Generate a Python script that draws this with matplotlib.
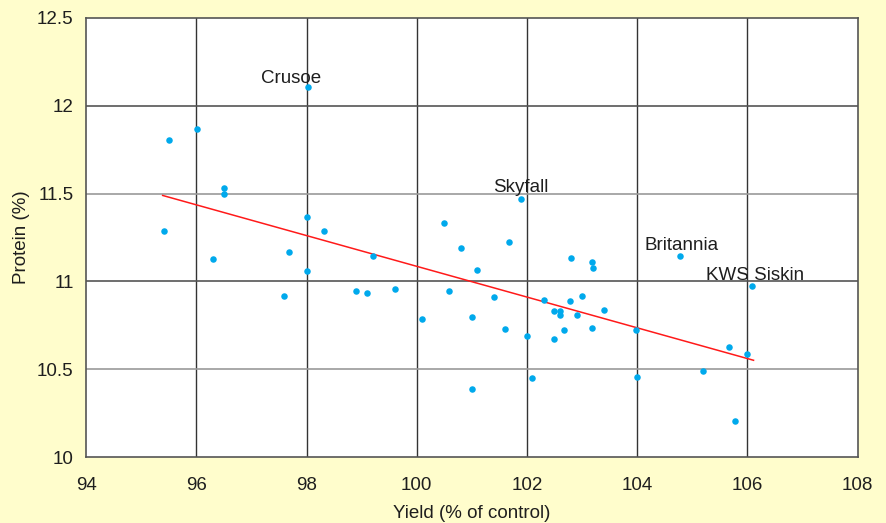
import matplotlib.pyplot as plt

# Yield (% of control) vs protein (%) for each variety
yield_pct = [98.03, 96.01, 95.5, 96.5, 96.5, 95.41, 98.0, 98.31,
             96.30, 97.69, 98.0, 97.60, 98.90, 99.10, 99.2,
             101.90, 100.50, 100.80, 101.68, 101.09, 102.79, 103.18, 103.19,
             99.60, 100.59, 101.40, 102.30, 102.78, 102.99, 102.49, 102.60,
             102.60, 102.90, 103.39, 100.09, 101.0, 101.60, 102.0, 102.68,
             102.49, 103.18, 103.98, 102.09, 101.0, 103.99,
             104.78, 106.09, 105.67, 105.99, 105.20, 105.78]
protein_pct = [12.106, 11.867, 11.807, 11.53, 11.50, 11.286, 11.367, 11.286,
               11.13, 11.168, 11.057, 10.915, 10.943, 10.933, 11.144,
               11.466, 11.333, 11.189, 11.225, 11.064, 11.134, 11.108, 11.074,
               10.956, 10.947, 10.913, 10.896, 10.886, 10.916, 10.83, 10.83,
               10.81, 10.807, 10.835, 10.786, 10.795, 10.729, 10.688, 10.725,
               10.672, 10.735, 10.722, 10.452, 10.388, 10.455,
               11.142, 10.972, 10.628, 10.587, 10.489, 10.208]

# trend line end points
trend_x = [95.39, 106.11]
trend_y = [11.489, 10.551]

# labelled varieties
label_names = ["Crusoe", "Skyfall", "Britannia", "KWS Siskin"]
label_x = [97.18, 101.38, 104.13, 105.25]
label_y = [12.152, 11.533, 11.203, 11.035]

x_ticks = [94, 96, 98, 100, 102, 104, 106, 108]
y_ticks = [10, 10.5, 11, 11.5, 12, 12.5]
y_tick_labels = ["10", "10.5", "11", "11.5", "12", "12.5"]

plt.rcParams['font.family'] = ['Liberation Sans', 'DejaVu Sans']
text_col = "#1e1e1e"

fig = plt.figure(figsize=(8.87, 5.23), dpi=100, facecolor="#FFFDCC")
ax = fig.add_axes([0.097, 0.126, 0.870, 0.840])
ax.set_facecolor("white")

# grid: vertical all dark, horizontal alternates dark / light
for xv in x_ticks[1:-1]:
    ax.axvline(xv, color="#333333", lw=1.0, zorder=1)
for yv in y_ticks[1:-1]:
    col = "#555555" if yv == int(yv) else "#9a9a9a"
    ax.axhline(yv, color=col, lw=1.2, zorder=1)

ax.plot(trend_x, trend_y, color="#FF1A1A", lw=1.1, zorder=2)
ax.scatter(yield_pct, protein_pct, s=22, color="#00A9EC", zorder=3, linewidths=0)

for name, tx, ty in zip(label_names, label_x, label_y):
    ax.text(tx, ty, name, fontsize=13.5, color=text_col, ha="left", va="center", zorder=4)

ax.set_xlim(94, 108)
ax.set_ylim(10, 12.5)
ax.set_xticks(x_ticks)
ax.set_yticks(y_ticks)
ax.set_yticklabels(y_tick_labels)
ax.tick_params(length=0, labelsize=13.5, labelcolor=text_col)
ax.tick_params(axis="x", pad=14)
ax.tick_params(axis="y", pad=9)
for sp in ax.spines.values():
    sp.set_color("#555555")
    sp.set_linewidth(1.2)

ax.set_xlabel("Yield (% of control)", fontsize=13.5, color=text_col, labelpad=8)
ax.set_ylabel("Protein (%)", fontsize=13.5, color=text_col, labelpad=5)

plt.savefig("out.png", dpi=100, facecolor=fig.get_facecolor())
